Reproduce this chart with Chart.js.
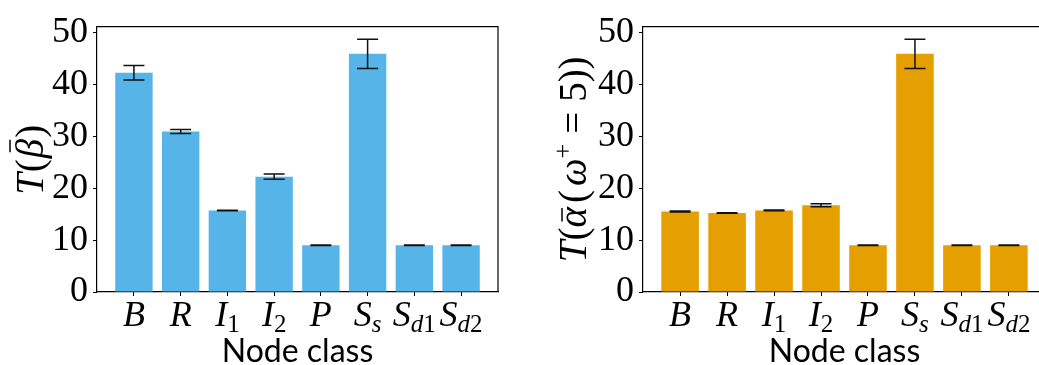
<!DOCTYPE html>
<html>
<head>
<meta charset="utf-8">
<script src="https://cdn.jsdelivr.net/npm/chart.js@4.4.1/dist/chart.umd.min.js"></script>
<style>
  html, body { margin: 0; padding: 0; background: #fff; overflow: hidden; width: 1039px; height: 365px; }
  canvas { position: absolute; top: 0; }
  #betaChart { left: 0; }
  #alphaChart { left: 520px; }
</style>
</head>
<body>
<canvas id="betaChart" width="520" height="365"></canvas>
<canvas id="alphaChart" width="560" height="365"></canvas>
<script>
// node classes: main letter + subscript
const tickMain = ['B', 'R', 'I', 'I', 'P', 'S', 'S', 'S'];
const tickSub = ['', '', '1', '2', '', 's', 'd1', 'd2'];
const yTicks = [0, 10, 20, 30, 40, 50];

// T(beta bar)
const betaVals = [42.2, 30.9, 15.7, 22.2, 9.0, 45.85, 9.0, 9.0];
const betaErr = [1.4, 0.4, 0.05, 0.5, 0.05, 2.8, 0.05, 0.05];

// T(alpha bar (omega+ = 5))
const alphaVals = [15.5, 15.2, 15.7, 16.7, 9.0, 45.85, 9.0, 9.0];
const alphaErr = [0.08, 0.05, 0.08, 0.28, 0.05, 2.8, 0.05, 0.05];

const serifFam = "'Liberation Serif', serif";
const ital = 'italic 36px ' + serifFam;
const titleItal = 'italic 39px ' + serifFam;
const titleRoman = '39px ' + serifFam;

// draws a row of text pieces (font / vertical shift / bar on top)
function drawRich(ctx, parts, x, y, rot) {
    ctx.save();
    ctx.translate(x, y);
    if (rot) ctx.rotate(rot);
    let total = 0;
    parts.forEach(p => {
        ctx.font = p.f;
        p.w = ctx.measureText(p.t).width + (p.gap || 0) * 2;
        total += p.w;
    });
    let cx = -total / 2;
    ctx.fillStyle = '#000';
    ctx.textAlign = 'left';
    ctx.textBaseline = 'alphabetic';
    parts.forEach(p => {
        ctx.font = p.f;
        const gw = ctx.measureText(p.t).width;
        ctx.fillText(p.t, cx + (p.gap || 0), p.dy || 0);
        if (p.bar) {
            ctx.beginPath();
            ctx.lineWidth = 1.5;
            ctx.strokeStyle = '#000';
            ctx.moveTo(cx + (p.gap || 0) + gw * 0.3, -p.bar);
            ctx.lineTo(cx + (p.gap || 0) + gw * 0.95, -p.bar);
            ctx.stroke();
        }
        cx += p.w;
    });
    ctx.restore();
}

function makeChart(id, vals, errs, color, yWidth, padRight, titleParts, titleX) {
    const errPlugin = {
        id: 'extras',
        afterDatasetsDraw(chart) {
            const ctx = chart.ctx;
            const xs = chart.scales.x, ys = chart.scales.y;
            const a = chart.chartArea;
            // error bars
            ctx.save();
            ctx.strokeStyle = '#111';
            ctx.lineWidth = 1.5;
            vals.forEach((v, i) => {
                const px = xs.getPixelForValue(i);
                const top = ys.getPixelForValue(v + errs[i]);
                const bot = ys.getPixelForValue(v - errs[i]);
                ctx.beginPath();
                ctx.moveTo(px, top); ctx.lineTo(px, bot);
                ctx.moveTo(px - 10.5, top); ctx.lineTo(px + 10.5, top);
                ctx.moveTo(px - 10.5, bot); ctx.lineTo(px + 10.5, bot);
                ctx.stroke();
            });
            // top and right spines
            ctx.strokeStyle = '#000';
            ctx.lineWidth = 1.2;
            ctx.beginPath();
            ctx.moveTo(a.left, a.top); ctx.lineTo(a.right, a.top); ctx.lineTo(a.right, a.bottom);
            ctx.stroke();
            ctx.restore();
        },
        afterDraw(chart) {
            const ctx = chart.ctx;
            const xs = chart.scales.x;
            const a = chart.chartArea;
            // category labels with subscripts
            tickMain.forEach((m, i) => {
                const parts = [{ t: m, f: ital }];
                const sub = tickSub[i];
                if (sub) {
                    for (const ch of sub) {
                        const isNum = /[0-9]/.test(ch);
                        parts.push({ t: ch, f: (isNum ? '' : 'italic ') + '25px ' + serifFam, dy: 6 });
                    }
                }
                drawRich(ctx, parts, xs.getPixelForValue(i), 326, 0);
            });
            // y title
            drawRich(ctx, titleParts, titleX, (a.top + a.bottom) / 2, -Math.PI / 2);
            // x title
            ctx.save();
            ctx.font = '32px Lato';
            ctx.fillStyle = '#000';
            ctx.textAlign = 'center';
            ctx.textBaseline = 'alphabetic';
            ctx.fillText('Node class', (a.left + a.right) / 2, 362);
            ctx.restore();
        }
    };

    return new Chart(document.getElementById(id), {
        type: 'bar',
        data: {
            datasets: [{
                data: vals.map((v, i) => ({ x: i, y: v })),
                backgroundColor: color,
                borderWidth: 0,
                categoryPercentage: 1,
                barPercentage: 0.8
            }]
        },
        options: {
            responsive: false,
            animation: false,
            events: [],
            layout: { padding: { top: 18, right: padRight, left: 0, bottom: 0 } },
            plugins: { legend: { display: false }, tooltip: { enabled: false } },
            scales: {
                x: {
                    type: 'linear',
                    offset: false,
                    min: -0.79,
                    max: 7.79,
                    afterBuildTicks: s => { s.ticks = tickMain.map((m, i) => ({ value: i })); },
                    afterFit: s => { s.height = 73; },
                    ticks: { display: false },
                    grid: { offset: false, drawOnChartArea: false, tickLength: 4, color: '#000', tickWidth: 1 },
                    border: { color: '#000', width: 1.2 }
                },
                y: {
                    min: 0,
                    max: 51.1,
                    afterBuildTicks: s => { s.ticks = yTicks.map(v => ({ value: v })); },
                    afterFit: s => { s.width = yWidth; },
                    ticks: { color: '#000', font: { family: serifFam, size: 36 }, padding: 5 },
                    grid: { drawOnChartArea: false, tickLength: 4, color: '#000', tickWidth: 1 },
                    border: { color: '#000', width: 1.2 }
                }
            }
        },
        plugins: [errPlugin]
    });
}

const charts = [
    makeChart('betaChart', betaVals, betaErr, '#56B4E9', 97, 22, [
        { t: 'T', f: titleItal },
        { t: '(', f: titleRoman, gap: 1 },
        { t: 'β', f: titleItal, bar: 33 },
        { t: ')', f: titleRoman, gap: 1 }
    ], 43),
    makeChart('alphaChart', alphaVals, alphaErr, '#E69F00', 123, 34, [
        { t: 'T', f: titleItal },
        { t: '(', f: titleRoman },
        { t: 'α', f: titleItal, bar: 24 },
        { t: '(', f: titleRoman, gap: 4 },
        { t: 'ω', f: titleItal },
        { t: '+', f: '26px ' + serifFam, dy: -15 },
        { t: '=', f: titleRoman, gap: 10 },
        { t: '5', f: titleRoman },
        { t: '))', f: titleRoman }
    ], 66)
];

// redraw once fonts are settled
document.fonts.ready.then(() => charts.forEach(c => c.update('none')));
</script>
</body>
</html>
